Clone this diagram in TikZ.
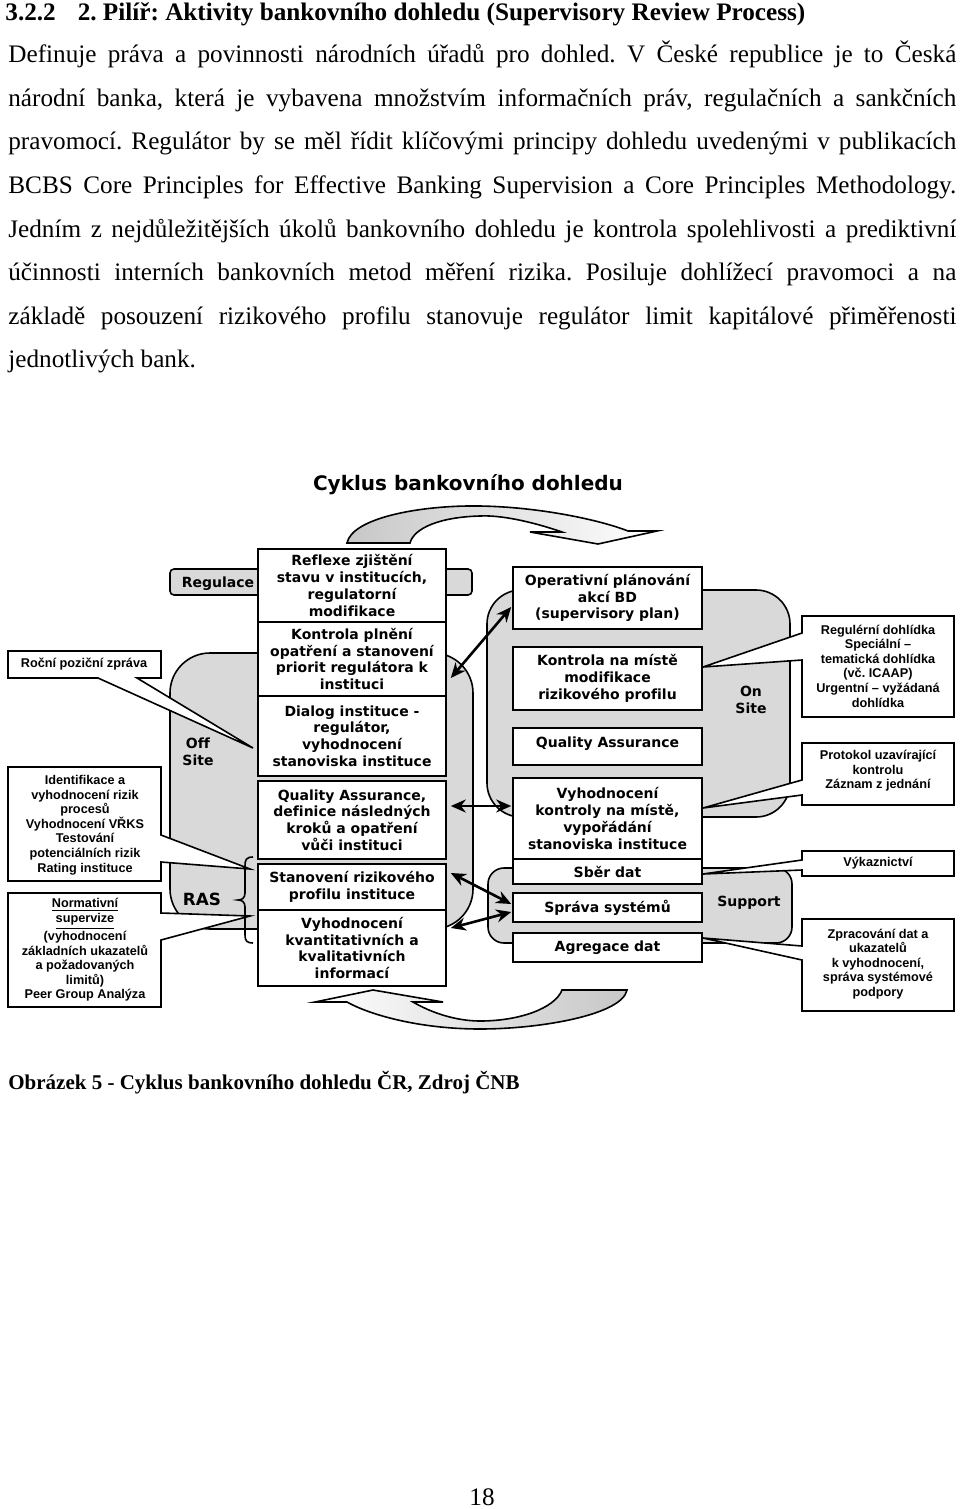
\documentclass[tikz,border=0pt]{standalone}
\usepackage{fontspec}
\setmainfont{Liberation Serif}
\newfontfamily\verd[Ligatures=NoCommon]{DejaVu Sans}
\newfontfamily\arial{Liberation Sans}
\usetikzlibrary{arrows.meta}
\pgfdeclarelayer{bg}
\pgfsetlayers{bg,main}
\frenchspacing
\newcommand{\jl}[1]{\hbox to 474pt{\spaceskip=0.25em plus 1em minus 0.1em\relax #1}}

\begin{document}
\begin{tikzpicture}[x=0.5pt, y=-0.5pt]
    % styly
    \tikzstyle{txt}=[anchor=base west, inner sep=0pt, font=\fontsize{12.6}{15}\selectfont]
    \tikzstyle{cbox}=[draw=black, line width=0.8pt, fill=white, inner sep=0pt, align=center, font=\verd\bfseries\fontsize{7}{8.4}\selectfont]
    \tikzstyle{ctext}=[inner sep=0pt, align=center, font=\arial\bfseries\fontsize{6.35}{7.3}\selectfont]
    \tikzstyle{zlabel}=[inner sep=0pt, align=center, font=\verd\bfseries\fontsize{7}{8.4}\selectfont]
    \tikzstyle{bubble}=[draw=black, line width=0.8pt, fill=white]
    \tikzstyle{zone}=[draw=black, line width=0.8pt, fill=black!15]
    \tikzstyle{band}=[draw=black, line width=0.8pt]
    \tikzstyle{dblarrow}=[line width=1.3pt, {Stealth[length=7.5pt,width=6.5pt]}-{Stealth[length=7.5pt,width=6.5pt]}]

    \useasboundingbox (0,0) rectangle (960,1509);

    % text stranky
    \node[txt, font=\bfseries\fontsize{12.6}{15}\selectfont] (head) at (5,21) {3.2.2\hspace{11pt}2. Pilíř: Aktivity bankovního dohledu (Supervisory Review Process)};
    \node[txt] (l1) at (8,63) {\jl{Definuje práva a povinnosti národních úřadů pro dohled. V České republice je to Česká}};
    \node[txt] (l2) at (8,106) {\jl{národní banka, která je vybavena množstvím informačních práv, regulačních a sankčních}};
    \node[txt] (l3) at (8,149) {\jl{pravomocí. Regulátor by se měl řídit klíčovými principy dohledu uvedenými v publikacích}};
    \node[txt] (l4) at (8,193) {\jl{BCBS Core Principles for Effective Banking Supervision a Core Principles Methodology.}};
    \node[txt] (l5) at (8,237) {\jl{Jedním z nejdůležitějších úkolů bankovního dohledu je kontrola spolehlivosti a prediktivní}};
    \node[txt] (l6) at (8,280) {\jl{účinnosti interních bankovních metod měření rizika. Posiluje dohlížecí pravomoci a na}};
    \node[txt] (l7) at (8,324) {\jl{základě posouzení rizikového profilu stanovuje regulátor limit kapitálové přiměřenosti}};
    \node[txt] (l8) at (8,367) {jednotlivých bank.};

    % nadpis schematu
    \node[font=\verd\bfseries\fontsize{10}{12}\selectfont] (title) at (468,485) {Cyklus bankovního dohledu};

    % levy sloupec
    \node[cbox, minimum width=94pt, minimum height=36.5pt] (ba) at (352,585.5) {Reflexe zjištění\\stavu v institucích,\\regulatorní\\modifikace};
    \node[cbox, minimum width=94pt, minimum height=37pt] (bb) at (352,659) {Kontrola plnění\\opatření a stanovení\\priorit regulátora k\\instituci};
    \node[cbox, minimum width=94pt, minimum height=40pt] (bc) at (352,736) {Dialog instituce -\\regulátor,\\vyhodnocení\\stanoviska instituce};
    \node[cbox, minimum width=94pt, minimum height=39pt] (bd) at (352,820) {Quality Assurance,\\definice následných\\kroků a opatření\\vůči instituci};
    \node[cbox, minimum width=94pt, minimum height=23pt] (be) at (352,887) {Stanovení rizikového\\profilu instituce};
    \node[cbox, minimum width=94pt, minimum height=38pt] (bf) at (352,948) {Vyhodnocení\\kvantitativních a\\kvalitativních\\informací};

    % pravy sloupec
    \node[cbox, minimum width=94.5pt, minimum height=31pt] (op) at (607.5,598) {Operativní plánování\\akcí BD\\(supervisory plan)};
    \node[cbox, minimum width=94.5pt, minimum height=31.5pt] (km) at (607.5,678.5) {Kontrola na místě\\modifikace\\rizikového profilu};
    \node[cbox, minimum width=94.5pt, minimum height=18.5pt, text depth=4pt] (qa) at (607.5,746.5) {Quality Assurance};
    \node[cbox, minimum width=94.5pt, minimum height=40.5pt] (vk) at (607.5,818.5) {Vyhodnocení\\kontroly na místě,\\vypořádání\\stanoviska instituce};
    \node[cbox, minimum width=94.5pt, minimum height=12.5pt] (sd) at (607.5,871.5) {Sběr dat};
    \node[cbox, minimum width=94.5pt, minimum height=14.5pt] (ss) at (607.5,907.5) {Správa systémů};
    \node[cbox, minimum width=94.5pt, minimum height=14.5pt] (ad) at (607.5,947.5) {Agregace dat};

    % popisky oblasti
    \node[zlabel] (reg) at (218,584) {Regulace};
    \node[zlabel] (off) at (198,752) {Off\\Site};
    \node[zlabel] (on) at (751,700) {On\\Site};
    \node[zlabel] (sup) at (749,903) {Support};
    \node[zlabel, font=\verd\bfseries\fontsize{8.4}{10}\selectfont] (ras) at (202,899) {RAS};

    % bocni popisky
    \node[ctext] (rpz) at (84,664.5) {Roční poziční zpráva};
    \node[ctext] (idf) at (85,825) {Identifikace a\\vyhodnocení rizik\\procesů\\Vyhodnocení VŘKS\\Testování\\potenciálních rizik\\Rating instituce};
    \node[ctext] (nrm) at (85,950) {\underline{Normativní}\\\underline{supervize}\\(vyhodnocení\\základních ukazatelů\\a požadovaných\\limitů)\\Peer Group Analýza};
    \node[ctext] (rdh) at (878,666) {Regulérní dohlídka\\Speciální –\\tematická dohlídka\\(vč. ICAAP)\\Urgentní – vyžádaná\\dohlídka};
    \node[ctext] (pro) at (878,771) {Protokol uzavírající\\kontrolu\\Záznam z jednání};
    \node[ctext] (vyk) at (878,863) {Výkaznictví};
    \node[ctext] (zpr) at (878,964) {Zpracování dat a\\ukazatelů\\k vyhodnocení,\\správa systémové\\podpory};

    \begin{pgfonlayer}{bg}
        \fill[white] (0,0) rectangle (960,1509);
        % sede oblasti
        \draw[zone, rounded corners=2pt] (170,569) rectangle (472,595);
        \draw[zone, rounded corners=20pt] (170,653) rectangle (473,929);
        \draw[zone, rounded corners=17pt] (487,590) rectangle (790,817);
        \draw[zone, rounded corners=8pt] (488,868) rectangle (792,943);
        % zahnute sipky cyklu
        \draw[band, left color=black!22, right color=white] (347,543) .. controls (352,518) and (420,505) .. (480,506)
            .. controls (540,507) and (600,520) .. (628,531) -- (657,531) -- (598,544) -- (530,532) -- (562,532)
            .. controls (530,521) and (500,515) .. (480,516) .. controls (440,517) and (414,528) .. (410,543) -- cycle;
        \draw[band, left color=white, right color=black!22] (627,990) .. controls (622,1015) and (540,1029) .. (480,1029)
            .. controls (420,1029) and (370,1015) .. (347,1002) -- (315,1002) -- (373,990) -- (443,1002) -- (413,1002)
            .. controls (430,1012) and (455,1021) .. (480,1021) .. controls (520,1021) and (555,1008) .. (562,990) -- cycle;
        % bubliny
        \draw[bubble] (8,651) -- (161,651) -- (161,678) -- (137,678) -- (253,748) -- (98,678) -- (8,678) -- cycle;
        \draw[bubble] (8,767) -- (161,767) -- (161,835) -- (250,869) -- (161,862) -- (161,881) -- (8,881) -- cycle;
        \draw[bubble] (8,893) -- (161,893) -- (161,913) -- (250,916) -- (161,940) -- (161,1007) -- (8,1007) -- cycle;
        \draw[bubble] (802,616) -- (954,616) -- (954,717) -- (802,717) -- (802,660) -- (703,667) -- (802,633) -- cycle;
        \draw[bubble] (802,743) -- (954,743) -- (954,805) -- (802,805) -- (802,795) -- (703,808) -- (802,780) -- cycle;
        \draw[bubble] (802,851) -- (954,851) -- (954,876) -- (802,876) -- (802,870) -- (703,874) -- (802,860) -- cycle;
        \draw[bubble] (802,919) -- (954,919) -- (954,1011) -- (802,1011) -- (802,960) -- (703,938) -- (802,946) -- cycle;
    \end{pgfonlayer}

    % zavorka RAS
    \draw[line width=0.8pt] (253,857) .. controls (246,857) and (245,860) .. (245,866) -- (245,893)
        .. controls (245,898) and (242,900) .. (238,900) .. controls (242,900) and (245,902) .. (245,907)
        -- (245,935) .. controls (245,941) and (247,943) .. (253,943);

    % obousmerne sipky
    \draw[dblarrow] ([shift={(4,19)}]bb.east) -- ([shift={(-1,9)}]op.west);
    \draw[dblarrow] ([shift={(4,-14)}]bd.east) -- ([shift={(-1,-12.5)}]vk.west);
    \draw[dblarrow] ([shift={(4,-14)}]be.east) -- ([shift={(-1,-3.5)}]ss.west);
    \draw[dblarrow] ([shift={(4,-20)}]bf.east) -- ([shift={(-1,4.5)}]ss.west);

    % popisek obrazku a cislo strany
    \node[txt, font=\bfseries\fontsize{10.5}{13}\selectfont] (cap) at (8,1089) {Obrázek 5 - Cyklus bankovního dohledu ČR, Zdroj ČNB};
    \node[anchor=base, inner sep=0pt, font=\fontsize{12.6}{15}\selectfont] (pg) at (482,1505) {18};
\end{tikzpicture}
\end{document}
